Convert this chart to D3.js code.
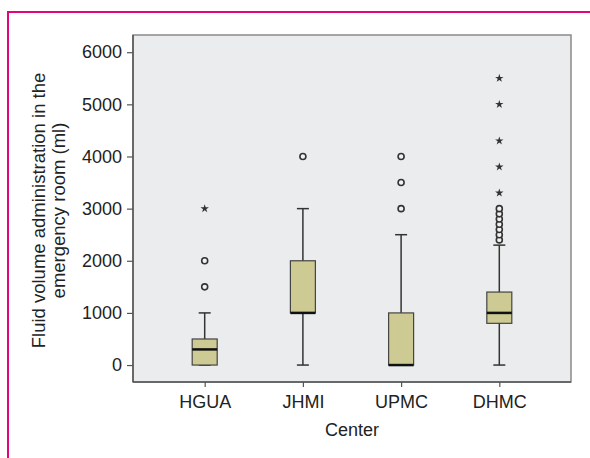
<!DOCTYPE html>
<html>
<head>
<meta charset="utf-8">
<script src="https://cdn.jsdelivr.net/npm/d3@7"></script>
<style>
  body { margin: 0; background: #fff; }
  text { font-family: "Liberation Sans", Arial, sans-serif; fill: #222; }
</style>
</head>
<body>
<div id="chart"></div>
<script>
// data
var centers = ["HGUA", "JHMI", "UPMC", "DHMC"];
var mins    = [0, 0, 0, 0];
var q1s     = [0, 1000, 0, 800];
var medians = [300, 1000, 0, 1000];
var q3s     = [500, 2000, 1000, 1400];
var maxs    = [1000, 3000, 2500, 2300];
var outliers = [
  [1500, 2000],
  [4000],
  [3000, 3500, 4000],
  [2400, 2500, 2600, 2700, 2800, 2900, 3000]
];
var extremes = [
  [3000],
  [],
  [],
  [3300, 3800, 4300, 5000, 5500]
];
var yTicks = [0, 1000, 2000, 3000, 4000, 5000, 6000];

var W = 590, H = 458;
var margin = {top: 35, right: 19, bottom: 76, left: 133};
var width = W - margin.left - margin.right,
    height = H - margin.top - margin.bottom;

var svg = d3.select("#chart").append("svg")
    .attr("width", W)
    .attr("height", H);

// magenta frame (top + left visible)
svg.append("path")
    .attr("d", "M8,458 L8,12 L590,12")
    .style("fill", "none")
    .style("stroke", "#e2067c")
    .style("stroke-width", 2);

var g = svg.append("g")
    .attr("transform", "translate(" + margin.left + "," + margin.top + ")");

var x = d3.scalePoint()
    .domain(centers)
    .range([0, width])
    .padding(0.73);

var y = d3.scaleLinear()
    .domain([-325, 6330])
    .range([height, 0]);

// plot background
g.append("rect")
    .attr("width", width)
    .attr("height", height)
    .style("fill", "#ebeced")
    .style("stroke", "#8a8a8a")
    .style("stroke-width", 1.5);

// axes
var yAxis = d3.axisLeft(y).tickValues(yTicks).tickSize(6).tickPadding(5).tickFormat(d3.format("d"));
var xAxis = d3.axisBottom(x).tickSize(5).tickPadding(8);

var ya = g.append("g").call(yAxis);
var xa = g.append("g").attr("transform", "translate(0," + height + ")").call(xAxis);
[ya, xa].forEach(function(a) {
  a.attr("font-size", null).attr("font-family", null);
  a.select(".domain").style("stroke", "#555").style("stroke-width", 1.5);
  a.selectAll(".tick line").style("stroke", "#555").style("stroke-width", 1.2);
  a.selectAll("text").style("font-size", "18px").style("fill", "#222");
});
ya.select(".domain").attr("d", "M0,0V" + height);
xa.select(".domain").attr("d", "M0,0H" + width);

// axis titles
g.append("text")
    .attr("x", width / 2)
    .attr("y", height + 54)
    .style("text-anchor", "middle")
    .style("font-size", "18px")
    .text("Center");

var yl = g.append("text")
    .attr("transform", "translate(" + (-88) + "," + (height / 2 + 2) + ") rotate(-90)")
    .style("text-anchor", "middle")
    .style("font-size", "18.5px");
yl.append("tspan").attr("x", 0).attr("dy", 0).text("Fluid volume administration in the");
yl.append("tspan").attr("x", 0).attr("dy", "1.1em").text("emergency room (ml)");

// boxes
var boxW = 25, capW = 12;
var boxes = g.selectAll(".box")
    .data(centers)
    .enter().append("g")
    .attr("class", "box")
    .attr("transform", function(d) { return "translate(" + x(d) + ",0)"; });

// whiskers
boxes.append("line")
    .attr("y1", function(d, i) { return y(mins[i]); })
    .attr("y2", function(d, i) { return y(maxs[i]); })
    .style("stroke", "#333").style("stroke-width", 1.5);
boxes.append("line")
    .attr("x1", -capW / 2).attr("x2", capW / 2)
    .attr("y1", function(d, i) { return y(maxs[i]); })
    .attr("y2", function(d, i) { return y(maxs[i]); })
    .style("stroke", "#333").style("stroke-width", 1.5);
boxes.append("line")
    .attr("x1", -capW / 2).attr("x2", capW / 2)
    .attr("y1", function(d, i) { return y(mins[i]); })
    .attr("y2", function(d, i) { return y(mins[i]); })
    .style("stroke", "#333").style("stroke-width", 1.5);

boxes.append("rect")
    .attr("x", -boxW / 2)
    .attr("width", boxW)
    .attr("y", function(d, i) { return y(q3s[i]); })
    .attr("height", function(d, i) { return y(q1s[i]) - y(q3s[i]); })
    .style("fill", "#cdca94")
    .style("stroke", "#444")
    .style("stroke-width", 1.2);

boxes.append("line")
    .attr("x1", -boxW / 2).attr("x2", boxW / 2)
    .attr("y1", function(d, i) { return y(medians[i]); })
    .attr("y2", function(d, i) { return y(medians[i]); })
    .style("stroke", "#111").style("stroke-width", 2.5);

// outliers (circles)
boxes.selectAll(".out")
    .data(function(d, i) { return outliers[i]; })
    .enter().append("circle")
    .attr("class", "out")
    .attr("cy", function(v) { return y(v); })
    .attr("r", 3)
    .style("fill", "#f2f2f2")
    .style("stroke", "#333")
    .style("stroke-width", 1.6);

// extremes (stars)
var star = d3.symbol().type(d3.symbolStar).size(22);
boxes.selectAll(".ext")
    .data(function(d, i) { return extremes[i]; })
    .enter().append("path")
    .attr("class", "ext")
    .attr("d", star)
    .attr("transform", function(v) { return "translate(0," + y(v) + ")"; })
    .style("fill", "#333");
</script>
</body>
</html>
